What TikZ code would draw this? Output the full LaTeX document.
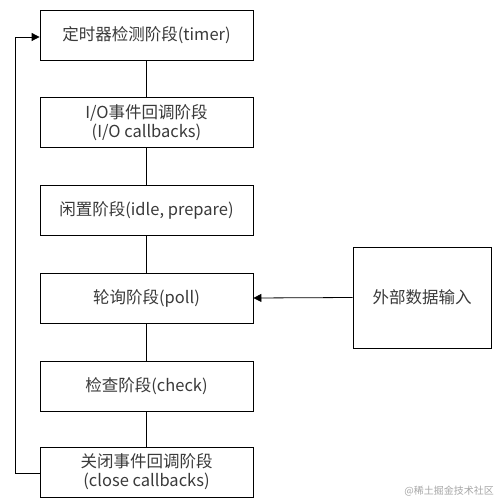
\documentclass[tikz,border=0pt]{standalone}
\usepackage{fontspec}
\setmainfont{Noto Sans CJK SC}
\usetikzlibrary{arrows.meta}
\definecolor{txt}{HTML}{3a3a3a}
\tikzset{
  phase/.style={draw=black, line width=0.8pt, minimum width=213pt, minimum height=50pt, inner sep=0pt, align=center, text=txt, font=\fontsize{16.5}{19}\selectfont, fill=white},
  conn/.style={draw=black, line width=0.8pt},
  arr/.style={conn, -{Triangle[length=8pt, width=8pt]}}
}
\begin{document}
\begin{tikzpicture}[x=1pt, y=-1pt]
\useasboundingbox (0,0) rectangle (498,502);
\node[phase] (b1) at (146.5,35.5) {定时器检测阶段(timer)};
\node[phase] (b2) at (146.5,122.5) {I/O事件回调阶段\\(I/O callbacks)};
\node[phase] (b3) at (146.5,210) {闲置阶段(idle, prepare)};
\node[phase] (b4) at (146.5,298) {轮询阶段(poll)};
\node[phase] (b5) at (146.5,386) {检查阶段(check)};
\node[phase] (b6) at (146.5,472) {关闭事件回调阶段\\(close callbacks)};
\node[phase, minimum width=138pt, minimum height=101pt] (ext) at (422,297.5) {外部数据输入};
\draw[conn] (b1) -- (b2);
\draw[conn] (b2) -- (b3);
\draw[conn] (b3) -- (b4);
\draw[conn] (b4) -- (b5);
\draw[conn] (b5) -- (b6);
\coordinate (lb) at (15,473);
\coordinate (lt) at (15,37);
\draw[arr] (b6.west |- lb) -- (lb) -- (lt) -- (b1.west |- lt);
\draw[arr] (ext.west) -- (b4.east);
\node[text=black!35, font=\fontsize{10}{12}\selectfont, anchor=east, inner sep=0pt] (wm) at (494,491) {@稀土掘金技术社区};
\end{tikzpicture}
\end{document}
